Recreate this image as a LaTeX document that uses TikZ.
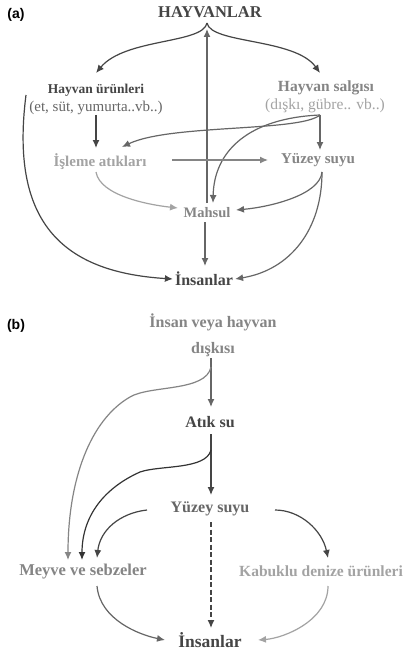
\documentclass[tikz,border=0pt]{standalone}
\usepackage{fontspec}
\setmainfont{Liberation Serif}
\newfontfamily\labfont{Liberation Sans}
\usetikzlibrary{arrows.meta}
\definecolor{cdark}{HTML}{454545}
\definecolor{cmid}{HTML}{666666}
\definecolor{clight}{HTML}{858585}
\definecolor{cpale}{HTML}{A3A3A3}
\tikzset{
  fs/.style={font=\fontsize{#1}{#1}\selectfont\bfseries},
  lbl/.style={inner sep=2pt},
  sub/.style={font=\fontsize{15}{17}\selectfont, inner sep=1pt},
  arr/.style={line width=1.2pt, -{Latex[length=8pt,width=7pt]}},
  ln/.style={line width=1.2pt},
}
\begin{document}
\begin{tikzpicture}[x=1pt,y=-1pt]
\useasboundingbox[fill=white] (0,0) rectangle (407,658);
% ---------- (a) ----------
\node[font=\labfont\fontsize{14}{16}\selectfont\bfseries, text=black] (pa) at (16,15) {(a)};
\node[lbl, fs=16.5, text=cdark] (hay) at (210,12) {HAYVANLAR};
\node[lbl, fs=13.5, text=cdark] (urun) at (96,90) {Hayvan ürünleri};
\node[sub, text=cmid] (urunsub) at (96,108) {(et, süt, yumurta..vb..)};
\node[lbl, fs=15.5, text=clight] (salg) at (326,88) {Hayvan salgısı};
\node[sub, font=\fontsize{15.5}{17}\selectfont, text=cpale] (salgsub) at (325,106) {(dışkı, gübre.. vb..)};
\node[lbl, fs=15, text=cpale] (isl) at (100,162) {İşleme atıkları};
\node[lbl, fs=15, text=clight] (yuz) at (318,160) {Yüzey suyu};
\node[lbl, fs=14.5, text=clight] (mah) at (207,213) {Mahsul};
\node[lbl, fs=16, text=cdark] (ins) at (204,279) {İnsanlar};
\coordinate (tip) at (207,23);
\coordinate (sb) at (320,115);
% brace
\draw[arr, cdark] (tip) .. controls (203,44) and (125,38) .. (96,73);
\draw[arr, cdark] (tip) .. controls (211,44) and (295,38) .. (320,73);
% up arrow
\draw[arr, cmid] (207,203) -- (207,29);
% urun -> isl
\draw[arr, cdark] (96,115) -- (96,148);
% salg branches
\draw[arr, cmid] (sb) -- (320,150);
\draw[arr, cmid] (sb) .. controls (300,132) and (170,124) .. (122,147);
\draw[arr, cmid] (sb) .. controls (250,118) and (214,150) .. (213,203);
% isl -> yuz
\draw[arr, clight] (172,160) -- (268,160);
% isl -> mah
\draw[arr, cpale] (96,172) .. controls (100,196) and (150,205) .. (178,208);
% yuz -> mah, ins
\draw[arr, cmid] (322,172) .. controls (320,195) and (270,207) .. (236,210);
\draw[arr, cmid] (322,172) .. controls (322,230) and (290,270) .. (ins.east);
% mah -> ins
\draw[arr, cmid] (205,222) -- (205,266);
% left big
\draw[arr, cdark] (26,95) .. controls (10,220) and (60,272) .. (ins.west);
% ---------- (b) ----------
\node[font=\labfont\fontsize{14}{16}\selectfont\bfseries, text=black] (pb) at (16,326) {(b)};
\node[lbl, font=\fontsize{16}{26}\selectfont\bfseries, text=clight, align=center] (dis) at (213,335) {İnsan veya hayvan\\dışkısı};
\node[lbl, fs=16, text=cdark] (atik) at (210,422) {Atık su};
\node[lbl, fs=16, text=cmid] (yuzb) at (210,509) {Yüzey suyu};
\node[lbl, fs=16.5, text=clight] (mey) at (83,572) {Meyve ve sebzeler};
\node[lbl, fs=15.5, text=cpale, anchor=west, inner sep=0pt] (kab) at (239,571) {Kabuklu denize ürünleri};
\node[lbl, fs=17.5, text=cdark] (insb) at (210,640) {İnsanlar};
\coordinate (bb1) at (211,367);
\coordinate (bb2) at (211,450);
\draw[ln, cmid] (211,358) -- (bb1);
\draw[arr, cmid] (bb1) -- (211,407);
\draw[arr, clight] (bb1) .. controls (206,392) and (150,385) .. (130,397) .. controls (90,420) and (68,480) .. (68,560);
\draw[ln, cdark] (211,434) -- (bb2);
\draw[arr, cdark] (bb2) -- (211,495);
\draw[arr, black!80] (bb2) .. controls (206,470) and (160,465) .. (140,472) .. controls (100,490) and (82,520) .. (82,560);
\draw[arr, cdark] (147,510) .. controls (120,513) and (100,530) .. (97,558);
\draw[arr, cdark] (275,510) .. controls (300,510) and (322,530) .. (328,558);
\draw[arr, cdark, dash pattern=on 5pt off 2.5pt] (211,522) -- (211,628);
\draw[arr, cmid] (97,586) .. controls (100,620) and (140,635) .. (165,640);
\draw[arr, cpale] (328,586) .. controls (328,620) and (285,638) .. (258,640);
\end{tikzpicture}
\end{document}
